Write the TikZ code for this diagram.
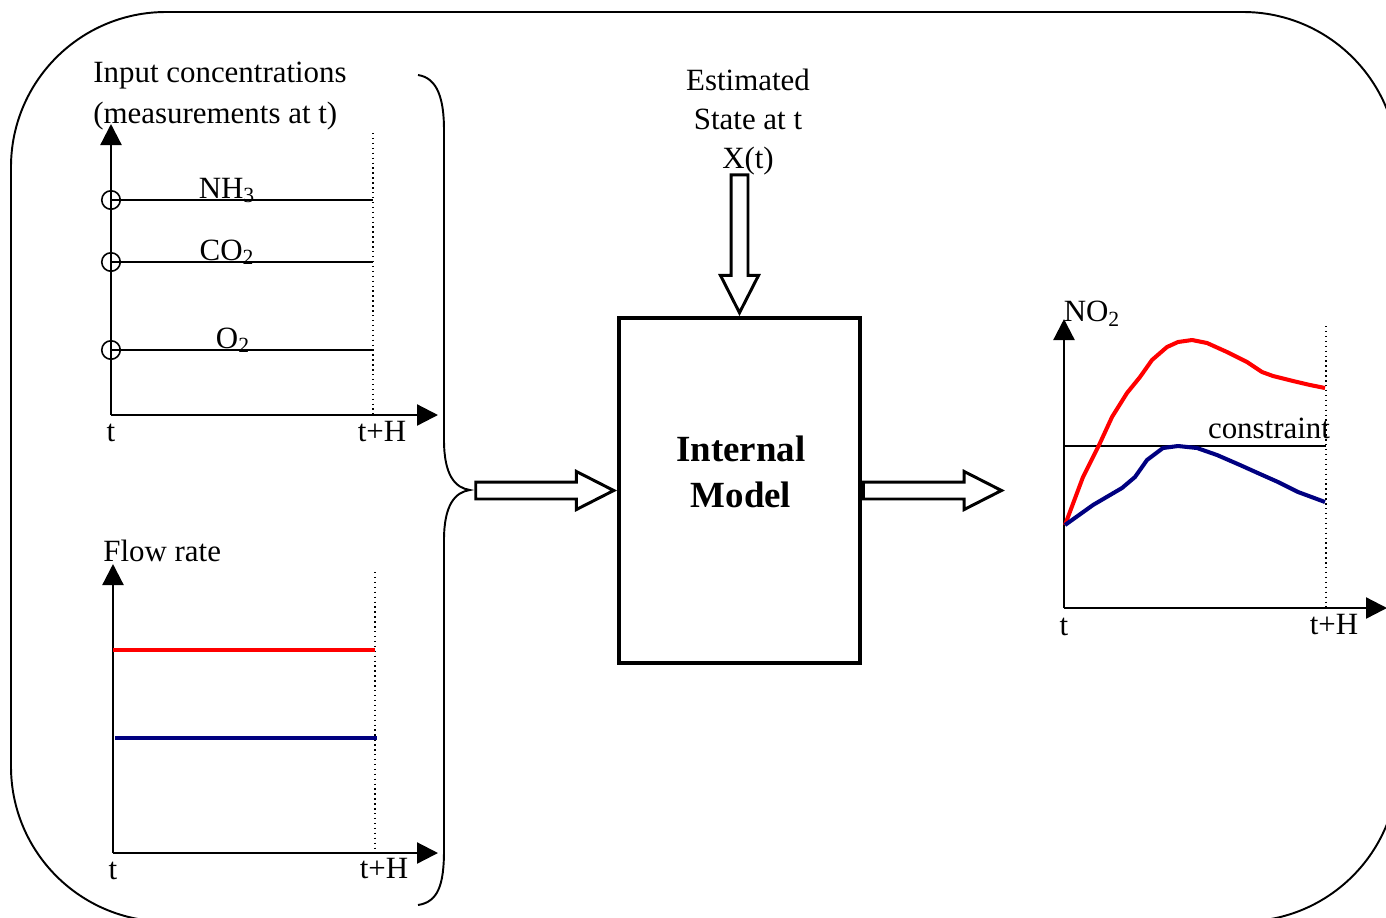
\documentclass[tikz,border=0pt]{standalone}
\usepackage{fontspec}
\setmainfont{Liberation Serif}
\usepackage{xcolor}
\usetikzlibrary{arrows.meta,positioning,shapes.arrows,calc}
\definecolor{navyline}{RGB}{0,0,128}

\begin{document}
\begin{tikzpicture}[
    x=0.02cm, y=-0.02cm,
    every node/.style={font=\fontsize{17.6}{22}\selectfont, inner sep=0pt},
    axis/.style={line width=1.3pt, -{Triangle[length=0.42cm, width=0.42cm]}},
    level/.style={line width=1.1pt},
    horizon/.style={dotted, line width=0.8pt},
    probe/.style={circle, draw, line width=0.9pt, minimum size=0.37cm},
    flow/.style={line width=2.3pt},
    fat/.style={single arrow, draw, line width=1.7pt, inner sep=0.14cm,
                minimum height=2.76cm, single arrow head extend=0.21cm,
                single arrow tip angle=54},
    outline/.style={line width=1.1pt}
]
\useasboundingbox (0,0) rectangle (1386,917);
% outer frame
\draw[outline, rounded corners=3.1cm] (11,12) rectangle (1398,921.5);

% input concentrations
\node[align=left, anchor=west, font=\fontsize{17.6}{23.3}\selectfont]
    (conc title) at (93,96) {Input concentrations\\(measurements at t)};
\coordinate (c0) at (111,415);
\coordinate (cy) at (111,124);
\coordinate (cx) at (438,415);
\draw[axis] (c0) -- (cy);
\draw[axis] (c0) -- (cx);
\draw[horizon] (373,133) -- (373,415);
\foreach \y/\name/\lab/\lx in {200/nh/NH\textsubscript{3}/227,
                              262/co/CO\textsubscript{2}/227,
                              350/ox/O\textsubscript{2}/233} {
    \node[probe] (\name) at (111,\y) {};
    \coordinate (\name end) at (373,\y);
    \draw[level] (\name.center) -- (\name end);
    \node[anchor=base] (\name label) at (\lx,\y-2) {\lab};
}
\node (c t) at (111,433) {t};
\node (c h) at (382,432) {t+H};

% flow rate
\node[anchor=west] (flow title) at (103,551) {Flow rate};
\coordinate (f0) at (113,853);
\coordinate (fy) at (113,564);
\coordinate (fx) at (438,853);
\draw[axis] (f0) -- (fy);
\draw[axis] (f0) -- (fx);
\draw[horizon] (375,572) -- (375,853);
\draw[flow, red] (113,650) -- (375,650);
\draw[flow, navyline] (115,738) -- (377,738);
\node (f t) at (113,871) {t};
\node (f h) at (384,869) {t+H};

% brace
\coordinate (brace tip) at (470,490);
\draw[outline] (418,75) .. controls (438,78) and (444,100) .. (444,130)
    -- (444,440) .. controls (444,475) and (455,488) .. (brace tip)
    .. controls (455,492) and (444,505) .. (444,540)
    -- (444,850) .. controls (444,885) and (438,902) .. (418,905);

% model
\node[draw, line width=2.3pt, minimum width=4.82cm, minimum height=6.9cm]
    (model) at (739.5,490.5) {};
\node[align=center, font=\fontsize{21}{26.6}\selectfont\bfseries]
    (model label) at (741,472) {Internal\\Model};
\node[align=center, font=\fontsize{17.6}{22.3}\selectfont]
    (state) at (748,122) {Estimated\\State at t\\X(t)};

\node[fat, anchor=tip] (feed) at (model.west) {};
\node[fat, anchor=tail] (result) at (model.east) {};
\node[fat, rotate=-90, anchor=tip] (state arrow) at (model.north) {};

% NO2 prediction
\coordinate (n0) at (1064,608);
\coordinate (ny) at (1064,319);
\coordinate (nx) at (1387,608);
\draw[axis] (n0) -- (ny);
\draw[axis] (n0) -- (nx);
\draw[horizon] (1326,326) -- (1326,608);
\draw[line width=0.8pt] (1064,446) -- (1326,446);
\node (limit) at (1269,428) {constraint};
\node (no2) at (1092,314) {NO\textsubscript{2}};
\draw[flow, red, line join=round] (1065,525) -- (1083,477) -- (1100,443)
    -- (1112,417) -- (1127,393) -- (1140,377) -- (1152,360) -- (1167,347)
    -- (1178,342) -- (1192,340) -- (1207,343) -- (1227,352) -- (1247,362)
    -- (1262,372) -- (1273,376) -- (1293,381) -- (1310,385) -- (1325,388);
\draw[flow, navyline, line join=round] (1065,525) -- (1093,505)
    -- (1122,488) -- (1135,477) -- (1147,460) -- (1163,448) -- (1178,446)
    -- (1197,448) -- (1217,455) -- (1240,465) -- (1260,474) -- (1278,482)
    -- (1298,492) -- (1325,502);
\node (n t) at (1064,627) {t};
\node (n h) at (1334,625) {t+H};
\end{tikzpicture}
\end{document}
